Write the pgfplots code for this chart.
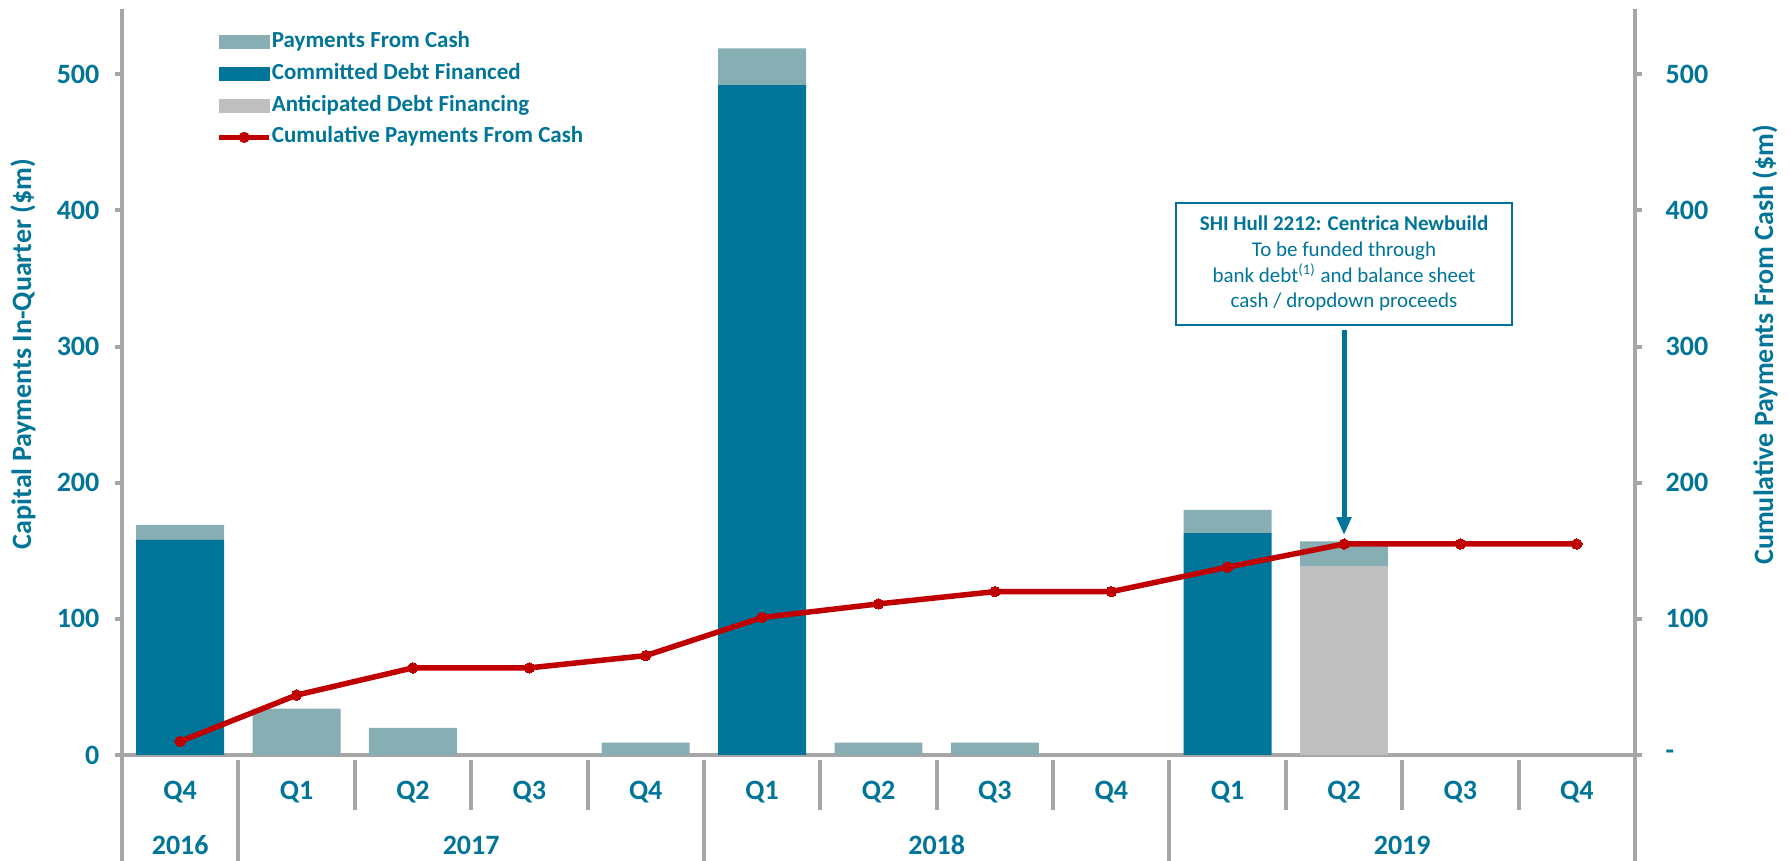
\documentclass[border=0pt]{standalone}
\usepackage{fontspec}
\setmainfont{Carlito}
\usepackage{pgfplots}
\pgfplotsset{compat=1.18}
\usetikzlibrary{arrows.meta}
\definecolor{tealc}{RGB}{0,117,153}
\definecolor{debtc}{RGB}{0,117,153}
\definecolor{cashc}{RGB}{134,174,179}
\definecolor{antc}{RGB}{191,191,191}
\definecolor{redc}{RGB}{192,0,0}
\definecolor{axc}{RGB}{166,166,166}
\begin{document}
\begin{tikzpicture}
\begin{axis}[
 scale only axis, width=756.5pt, height=373pt,
 xmin=-0.5, xmax=12.5, ymin=0, ymax=548,
 axis y line*=left, axis x line*=bottom,
 axis line style={draw=axc, line width=2pt, -},
 ybar stacked, bar width=0.756,
 clip=false,
 xtick={0,...,12},
 xticklabels={Q4,Q1,Q2,Q3,Q4,Q1,Q2,Q3,Q4,Q1,Q2,Q3,Q4},
 x tick style={draw=none},
 ytick={0,100,200,300,400,500},
 yticklabels={0,100,200,300,400,500},
 y tick style={draw=axc, line width=2pt},
 tick align=outside, major tick length=3.5pt,
 ticklabel style={font=\fontsize{14}{16}\selectfont\bfseries, text=tealc},
 xticklabel style={anchor=center, yshift=-15pt},
 yticklabel style={xshift=-4.3pt},
 ylabel={Capital Payments In-Quarter (\$m)},
 every axis y label/.style={at={(rel axis cs:0,0.5375)}, xshift=-49.5pt, rotate=90, anchor=center, font=\fontsize{14}{16}\selectfont\bfseries, text=tealc},
 legend style={at={(rel axis cs:0,1)}, anchor=north west, xshift=47pt, yshift=-11.2pt,
   draw=none, fill=none, inner sep=0pt, row sep=5.35pt,
   font=\fontsize{11.5}{13}\selectfont\bfseries, text=tealc,
   nodes={inner sep=0pt, text height=8pt, text depth=2.5pt},
   /tikz/every even column/.append style={column sep=3pt}},
 legend cell align=left,
]
\addlegendimage{legend image code/.code={\fill[cashc] (0pt,-3.25pt) rectangle (25pt,3.25pt);}}
\addlegendentry{Payments From Cash}
\addlegendimage{legend image code/.code={\fill[debtc] (0pt,-3.25pt) rectangle (25pt,3.25pt);}}
\addlegendentry{Committed Debt Financed}
\addlegendimage{legend image code/.code={\fill[antc] (0pt,-3.25pt) rectangle (25pt,3.25pt);}}
\addlegendentry{Anticipated Debt Financing}
\addlegendimage{legend image code/.code={\draw[redc, line width=2.75pt] (0pt,0pt) -- (25pt,0pt); \fill[redc] (12.5pt,0pt) circle (2.6pt);}}
\addlegendentry{Cumulative Payments From Cash}

\addplot[fill=debtc, draw=none] coordinates {(0,158) (1,0) (2,0) (3,0) (4,0) (5,492) (6,0) (7,0) (8,0) (9,163) (10,0) (11,0) (12,0)};
\addplot[fill=antc, draw=none] coordinates {(0,0) (1,0) (2,0) (3,0) (4,0) (5,0) (6,0) (7,0) (8,0) (9,0) (10,139) (11,0) (12,0)};
\addplot[fill=cashc, draw=none] coordinates {(0,11) (1,34) (2,20) (3,0) (4,9) (5,27) (6,9) (7,9) (8,0) (9,17) (10,18) (11,0) (12,0)};

\pgfplotsinvokeforeach{1.5,2.5,3.5,5.5,6.5,7.5,9.5,10.5,11.5}{
  \draw[axc, line width=2pt] ([yshift=-2.5pt]axis cs:#1,0) -- ([yshift=-27.5pt]axis cs:#1,0);
}
\pgfplotsinvokeforeach{0.5,4.5,8.5}{
  \draw[axc, line width=2pt] ([yshift=-2.5pt]axis cs:#1,0) -- ([yshift=-53pt]axis cs:#1,0);
}
\pgfplotsinvokeforeach{-0.5,12.5}{
  \draw[axc, line width=2pt] (axis cs:#1,0) -- ([yshift=-53pt]axis cs:#1,0);
}
\node[font=\fontsize{14}{16}\selectfont\bfseries, text=tealc, yshift=-45pt] at (axis cs:0,0) {2016};
\node[font=\fontsize{14}{16}\selectfont\bfseries, text=tealc, yshift=-45pt] at (axis cs:2.5,0) {2017};
\node[font=\fontsize{14}{16}\selectfont\bfseries, text=tealc, yshift=-45pt] at (axis cs:6.5,0) {2018};
\node[font=\fontsize{14}{16}\selectfont\bfseries, text=tealc, yshift=-45pt] at (axis cs:10.5,0) {2019};

\node[draw=tealc, line width=1pt, fill=white, text=tealc, align=center, minimum width=168pt, minimum height=61pt, inner sep=0pt, font=\fontsize{10.5}{12.8}\selectfont] at (axis cs:10,361)
 {\textbf{SHI Hull 2212: Centrica Newbuild}\\To be funded through\\bank debt\textsuperscript{(1)} and balance sheet\\cash / dropdown proceeds};
\draw[tealc, line width=2.5pt, -{Triangle[width=7pt,length=9pt]}] (axis cs:10,312) -- (axis cs:10,161.5);

\coordinate (sw) at (rel axis cs:0,0);
\coordinate (ne) at (rel axis cs:1,1);
\end{axis}

\begin{axis}[
 scale only axis, width=756.5pt, height=373pt,
 xmin=-0.5, xmax=12.5, ymin=0, ymax=548,
 axis y line*=right, axis x line=none,
 axis line style={draw=axc, line width=2pt, -},
 clip=false,
 ytick={0,100,200,300,400,500},
 yticklabels={-,100,200,300,400,500},
 y tick style={draw=axc, line width=2pt},
 tick align=outside, major tick length=3.5pt,
 yticklabel style={font=\fontsize{14}{16}\selectfont\bfseries, text=tealc, xshift=8.3pt},
 ylabel={Cumulative Payments From Cash (\$m)},
 every axis y label/.style={at={(rel axis cs:1,0.55)}, xshift=65pt, rotate=90, anchor=center, font=\fontsize{14}{16}\selectfont\bfseries, text=tealc},
]
\addplot[redc, line width=2.75pt, mark=*, mark size=2.6pt, mark options={fill=redc, draw=redc, line width=0pt}] coordinates {(0,10) (1,44) (2,64) (3,64) (4,73) (5,101) (6,111) (7,120) (8,120) (9,138) (10,155) (11,155) (12,155)};
\end{axis}

\pgfresetboundingbox
\path[use as bounding box] ([xshift=-61pt,yshift=-53pt]sw) rectangle ([xshift=77.5pt,yshift=4.5pt]ne);
\end{tikzpicture}
\end{document}
